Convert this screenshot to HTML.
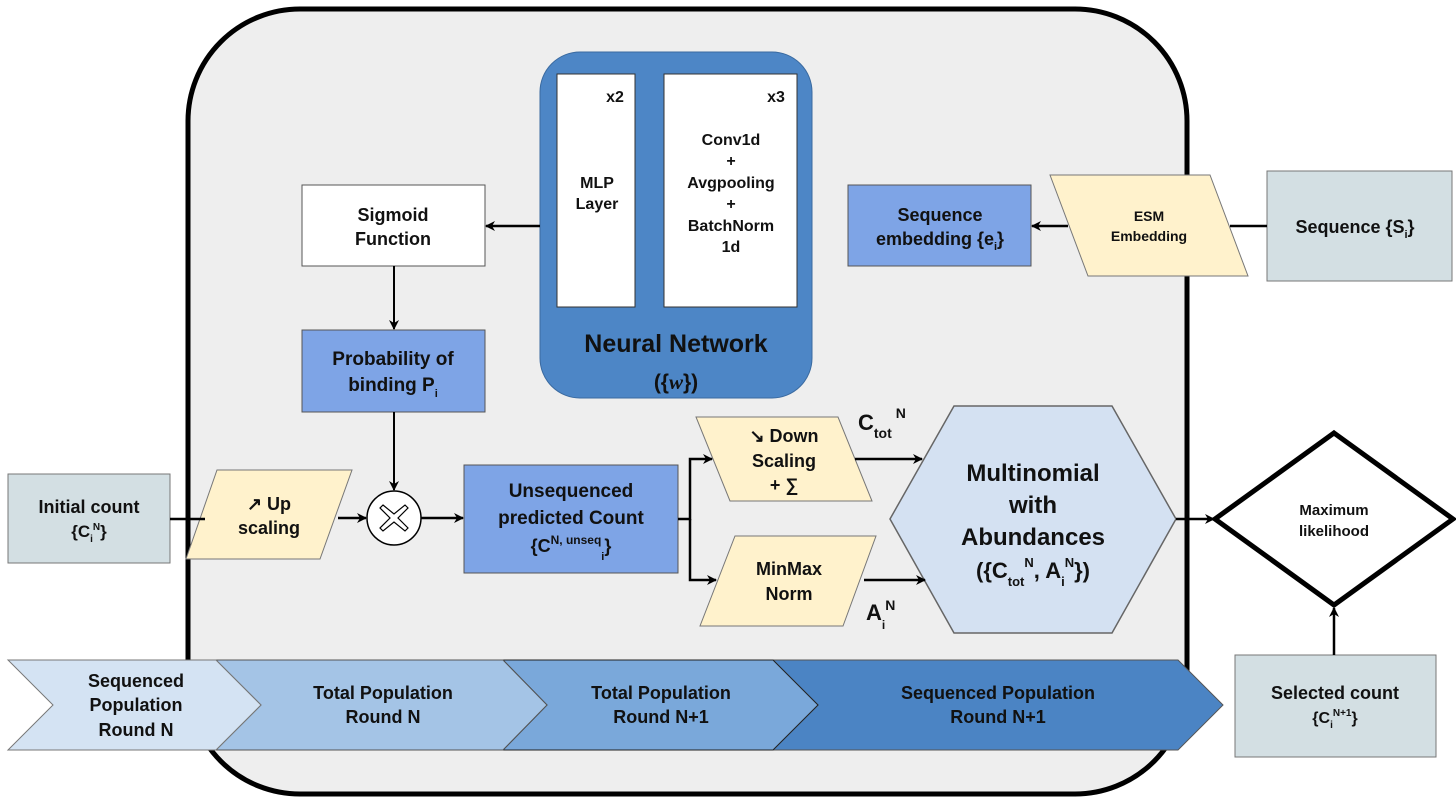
<!DOCTYPE html>
<html><head><meta charset="utf-8"><style>
html,body{margin:0;padding:0;background:#fff}
svg{display:block}
text{font-family:"Liberation Sans",Arial,sans-serif;font-weight:bold;fill:#111}
</style></head><body>
<svg width="1456" height="806" viewBox="0 0 1456 806" xmlns="http://www.w3.org/2000/svg">
<defs>
<marker id="ar" markerWidth="10" markerHeight="10" refX="9" refY="5" orient="auto" markerUnits="userSpaceOnUse">
<path d="M0,0 L10,5 L0,10 L3,5 z" fill="#000"/></marker>
</defs>
<rect x="188" y="9" width="999" height="785" rx="112" fill="#eeeeee" stroke="#000" stroke-width="5"/>

<!-- NN -->
<rect x="540" y="52" width="272" height="346" rx="40" fill="#4d86c6" stroke="#3a6aa0" stroke-width="1"/>
<rect x="557" y="74" width="78" height="233" fill="#fff" stroke="#333"/>
<rect x="664" y="74" width="133" height="233" fill="#fff" stroke="#333"/>
<text x="615" y="102" font-size="16" text-anchor="middle">x2</text>
<text x="776" y="102" font-size="16" text-anchor="middle">x3</text>
<text x="597" y="188" font-size="16" text-anchor="middle">MLP</text>
<text x="597" y="209" font-size="16" text-anchor="middle">Layer</text>
<text x="731" y="145" font-size="16" text-anchor="middle">Conv1d</text>
<text x="731" y="166" font-size="16" text-anchor="middle">+</text>
<text x="731" y="188" font-size="16" text-anchor="middle">Avgpooling</text>
<text x="731" y="209" font-size="16" text-anchor="middle">+</text>
<text x="731" y="231" font-size="16" text-anchor="middle">BatchNorm</text>
<text x="731" y="252" font-size="16" text-anchor="middle">1d</text>
<text x="676" y="352" font-size="25" text-anchor="middle">Neural Network</text>
<text x="676" y="389" font-size="21" text-anchor="middle">({<tspan font-family="Liberation Serif" font-style="italic">w</tspan>})</text>

<!-- Sigmoid / prob -->
<rect x="302" y="185" width="183" height="81" fill="#fff" stroke="#555"/>
<text x="393" y="221" font-size="18" text-anchor="middle">Sigmoid</text>
<text x="393" y="245" font-size="18" text-anchor="middle">Function</text>
<rect x="302" y="330" width="183" height="82" fill="#7ea4e6" stroke="#555"/>
<text x="393" y="365" font-size="19" text-anchor="middle">Probability of</text>
<text x="393" y="391" font-size="19" text-anchor="middle">binding P<tspan font-size="11" dy="6">i</tspan></text>

<!-- seq embedding -->
<rect x="848" y="185" width="183" height="81" fill="#7ea4e6" stroke="#555"/>
<text x="940" y="221" font-size="18" text-anchor="middle">Sequence</text>
<text x="940" y="245" font-size="18" text-anchor="middle">embedding {e<tspan font-size="11" dy="5">i</tspan><tspan dy="-5">}</tspan></text>
<polygon points="1050,175 1210,175 1248,276 1088,276" fill="#fff2cc" stroke="#777"/>
<text x="1149" y="221" font-size="14" text-anchor="middle">ESM</text>
<text x="1149" y="241" font-size="14" text-anchor="middle">Embedding</text>
<rect x="1267" y="171" width="185" height="110" fill="#d3dfe3" stroke="#777"/>
<text x="1355" y="233" font-size="18" text-anchor="middle">Sequence {S<tspan font-size="11" dy="5">i</tspan><tspan dy="-5">}</tspan></text>

<!-- initial count -->
<rect x="8" y="474" width="162" height="89" fill="#d3dfe3" stroke="#777"/>
<text x="89" y="513" font-size="18" text-anchor="middle">Initial count</text>
<text x="89" y="537" font-size="17" text-anchor="middle">{C<tspan font-size="10" dy="5">i</tspan><tspan font-size="10" dy="-12">N</tspan><tspan dy="7">}</tspan></text>
<polygon points="217,470 352,470 320,559 186,559" fill="#fff2cc" stroke="#777"/>
<text x="269" y="510" font-size="18" text-anchor="middle">↗ Up</text>
<text x="269" y="534" font-size="18" text-anchor="middle">scaling</text>
<circle cx="394" cy="518" r="27" fill="#fff" stroke="#000" stroke-width="1.5"/>
<path d="M383,505 L394,514 L405,505 L408,508 L398,518 L408,528 L405,531 L394,522 L383,531 L380,528 L390,518 L380,508 Z" fill="#fff" stroke="#000" stroke-width="1.2"/>
<rect x="464" y="465" width="214" height="108" fill="#7ea4e6" stroke="#555"/>
<text x="571" y="497" font-size="19" text-anchor="middle">Unsequenced</text>
<text x="571" y="524" font-size="19" text-anchor="middle">predicted Count</text>
<text x="571" y="552" font-size="18" text-anchor="middle">{C<tspan font-size="12" dy="-8">N, unseq</tspan><tspan font-size="11" dy="16">i</tspan><tspan dy="-8">}</tspan></text>

<polygon points="696,417 838,417 872,501 730,501" fill="#fff2cc" stroke="#777"/>
<text x="784" y="442" font-size="18" text-anchor="middle">↘ Down</text>
<text x="784" y="467" font-size="18" text-anchor="middle">Scaling</text>
<text x="784" y="491" font-size="18" text-anchor="middle">+ ∑</text>
<polygon points="735,536 876,536 843,626 700,626" fill="#fff2cc" stroke="#777"/>
<text x="789" y="575" font-size="18" text-anchor="middle">MinMax</text>
<text x="789" y="600" font-size="18" text-anchor="middle">Norm</text>
<text x="858" y="430" font-size="22">C<tspan font-size="14" dy="8">tot</tspan><tspan font-size="14" dy="-20" dx="4">N</tspan></text>
<text x="866" y="620" font-size="22">A<tspan font-size="12" dy="9">i</tspan><tspan font-size="14" dy="-19">N</tspan></text>

<polygon points="954,406 1112,406 1176,519 1112,633 954,633 890,519" fill="#d4e1f2" stroke="#666" stroke-width="1.5"/>
<text x="1033" y="481" font-size="24" text-anchor="middle">Multinomial</text>
<text x="1033" y="513" font-size="24" text-anchor="middle">with</text>
<text x="1033" y="545" font-size="24" text-anchor="middle">Abundances</text>
<text x="1033" y="578" font-size="22" text-anchor="middle">({C<tspan font-size="13" dy="8">tot</tspan><tspan font-size="13" dy="-19">N</tspan><tspan dy="11">, A</tspan><tspan font-size="13" dy="8">i</tspan><tspan font-size="13" dy="-19">N</tspan><tspan dy="11">})</tspan></text>

<polygon points="1334,433 1453,519 1334,605 1215,519" fill="#fff" stroke="#000" stroke-width="5"/>
<text x="1334" y="515" font-size="15" text-anchor="middle">Maximum</text>
<text x="1334" y="536" font-size="15" text-anchor="middle">likelihood</text>
<rect x="1235" y="655" width="201" height="102" fill="#d3dfe3" stroke="#777"/>
<text x="1335" y="699" font-size="18" text-anchor="middle">Selected count</text>
<text x="1335" y="723" font-size="16" text-anchor="middle">{C<tspan font-size="10" dy="5">i</tspan><tspan font-size="10" dy="-12">N+1</tspan><tspan dy="7">}</tspan></text>

<!-- chevrons -->
<polygon points="773,660 1178,660 1223,705 1178,750 773,750 818,705" fill="#4b84c4" stroke="#555"/>
<polygon points="503,660 773,660 818,705 773,750 503,750 547,705" fill="#7aa8da" stroke="#222"/>
<polygon points="216,660 503,660 547,705 503,750 216,750 261,705" fill="#a4c4e6" stroke="#555"/>
<polygon points="8,660 216,660 261,705 216,750 8,750 53,705" fill="#d4e3f3" stroke="#777"/>
<text x="136" y="687" font-size="18" text-anchor="middle">Sequenced</text>
<text x="136" y="711" font-size="18" text-anchor="middle">Population</text>
<text x="136" y="736" font-size="18" text-anchor="middle">Round N</text>
<text x="383" y="699" font-size="18" text-anchor="middle">Total Population</text>
<text x="383" y="723" font-size="18" text-anchor="middle">Round N</text>
<text x="661" y="699" font-size="18" text-anchor="middle">Total Population</text>
<text x="661" y="723" font-size="18" text-anchor="middle">Round N+1</text>
<text x="998" y="699" font-size="18" text-anchor="middle">Sequenced Population</text>
<text x="998" y="723" font-size="18" text-anchor="middle">Round N+1</text>

<!-- connectors -->
<g stroke="#000" stroke-width="2.5" fill="none">
<line x1="170" y1="519" x2="205" y2="519"/>
<line x1="338" y1="518" x2="366" y2="518" marker-end="url(#ar)"/>
<line x1="421" y1="518" x2="463" y2="518" marker-end="url(#ar)"/>
<line x1="394" y1="412" x2="394" y2="490" stroke-width="2" marker-end="url(#ar)"/>
<line x1="394" y1="266" x2="394" y2="329" stroke-width="2" marker-end="url(#ar)"/>
<line x1="540" y1="226" x2="486" y2="226" marker-end="url(#ar)"/>
<line x1="1068" y1="226" x2="1032" y2="226" marker-end="url(#ar)"/>
<line x1="1267" y1="226" x2="1230" y2="226"/>
<polyline points="678,519 690,519 690,459 712,459" marker-end="url(#ar)"/>
<polyline points="690,519 690,580 716,580" marker-end="url(#ar)"/>
<line x1="855" y1="459" x2="922" y2="459" marker-end="url(#ar)"/>
<line x1="864" y1="580" x2="925" y2="580" marker-end="url(#ar)"/>
<line x1="1176" y1="519" x2="1214" y2="519" marker-end="url(#ar)"/>
<line x1="1334" y1="655" x2="1334" y2="608" marker-end="url(#ar)"/>
</g>
</svg>
</body></html>
